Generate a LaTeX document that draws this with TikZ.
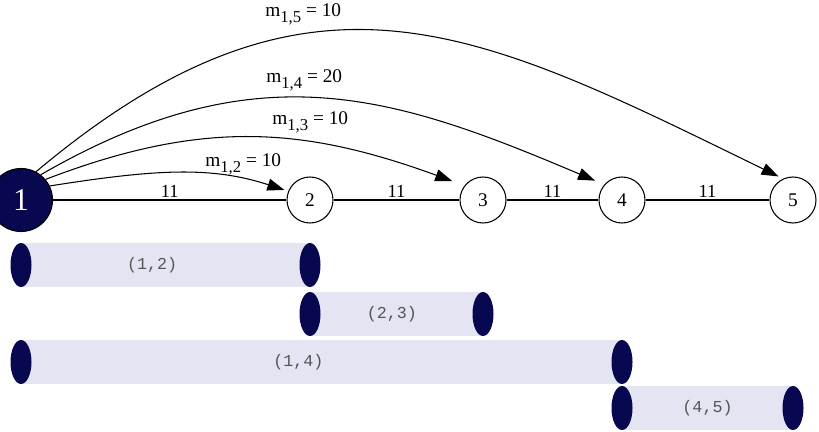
\documentclass[tikz,border=0pt]{standalone}
\usepackage{fontspec}
\setmainfont{Liberation Serif}
\setmonofont{Liberation Mono}
\usetikzlibrary{arrows.meta, shapes.geometric, backgrounds}
\definecolor{navyblue}{RGB}{8,8,80}
\definecolor{barfill}{RGB}{228,228,242}
\definecolor{labelgray}{RGB}{85,85,85}
\newcommand{\mlabel}[2]{m\raisebox{-0.6ex}{\fontsize{9.5}{9.5}\selectfont #1} = #2}

\begin{document}
\begin{tikzpicture}[
    vert/.style={draw, circle, minimum size=0.92cm, inner sep=0pt, line width=0.6pt, font=\fontsize{11}{13}\selectfont},
    src/.style={vert, minimum size=1.26cm, fill=navyblue, text=white, font=\fontsize{18}{20}\selectfont},
    link/.style={line width=0.6pt},
    msg/.style={-{Triangle[length=3.4mm, width=2.4mm]}, line width=0.6pt},
    cyl/.style={ellipse, fill=navyblue, minimum width=0.42cm, minimum height=0.88cm, inner sep=0pt},
    runbar/.style={fill=barfill},
    blab/.style={font=\ttfamily\fontsize{9.5}{11}\selectfont, text=labelgray},
    wlab/.style={font=\fontsize{10.5}{12}\selectfont, inner sep=1pt},
    mlab/.style={anchor=base west, inner sep=0pt, font=\fontsize{11}{13}\selectfont}
]
\useasboundingbox (0,0) rectangle (16.38,-8.64);
\node[src] (n1) at (0.42,-4) {1};
\node[vert] (n2) at (6.2,-4) {2};
\node[vert] (n3) at (9.66,-4) {3};
\node[vert] (n4) at (12.44,-4) {4};
\node[vert] (n5) at (15.86,-4) {5};
\draw[link] (n1) -- node[above, wlab] {11} (n2);
\draw[link] (n2) -- node[above, wlab] {11} (n3);
\draw[link] (n3) -- node[above, wlab] {11} (n4);
\draw[link] (n4) -- node[above, wlab] {11} (n5);
\draw[msg, shorten >=0.08cm] (n1.26) to[out=9, in=162, out distance=2.2cm, in distance=1.6cm] (n2.158);
\draw[msg, shorten >=0.26cm] (n1.40) to[out=21, in=160, out distance=3.4cm, in distance=3.4cm] (n3.142);
\draw[msg, shorten >=0.2cm] (n1.52) to[out=30, in=157, out distance=5cm, in distance=4.6cm] (n4.139);
\draw[msg, shorten >=0.1cm] (n1.62) to[out=40, in=154, out distance=7.2cm, in distance=6.8cm] (n5.115);
\node[mlab] (m12) at (4.1,-3.34) {\mlabel{1,2}{10}};
\node[mlab] (m13) at (5.44,-2.5) {\mlabel{1,3}{10}};
\node[mlab] (m14) at (5.32,-1.66) {\mlabel{1,4}{20}};
\node[mlab] (m15) at (5.3,-0.34) {\mlabel{1,5}{10}};
\coordinate (r1) at (0,-5.3);
\coordinate (r2) at (0,-6.28);
\coordinate (r3) at (0,-7.24);
\coordinate (r4) at (0,-8.16);
\node[cyl] (c12a) at (n1 |- r1) {};
\node[cyl] (c12b) at (n2 |- r1) {};
\node[cyl] (c23a) at (n2 |- r2) {};
\node[cyl] (c23b) at (n3 |- r2) {};
\node[cyl] (c14a) at (n1 |- r3) {};
\node[cyl] (c14b) at (n4 |- r3) {};
\node[cyl] (c45a) at (n4 |- r4) {};
\node[cyl] (c45b) at (n5 |- r4) {};
\begin{scope}[on background layer]
\fill[runbar] (c12a.north) rectangle (c12b.south);
\fill[runbar] (c23a.north) rectangle (c23b.south);
\fill[runbar] (c14a.north) rectangle (c14b.south);
\fill[runbar] (c45a.north) rectangle (c45b.south);
\end{scope}
\path (c12a) -- node[pos=0.45, blab] {(1,2)} (c12b);
\path (c23a) -- node[pos=0.47, blab] {(2,3)} (c23b);
\path (c14a) -- node[pos=0.46, blab] {(1,4)} (c14b);
\path (c45a) -- node[blab] {(4,5)} (c45b);
\end{tikzpicture}
\end{document}
